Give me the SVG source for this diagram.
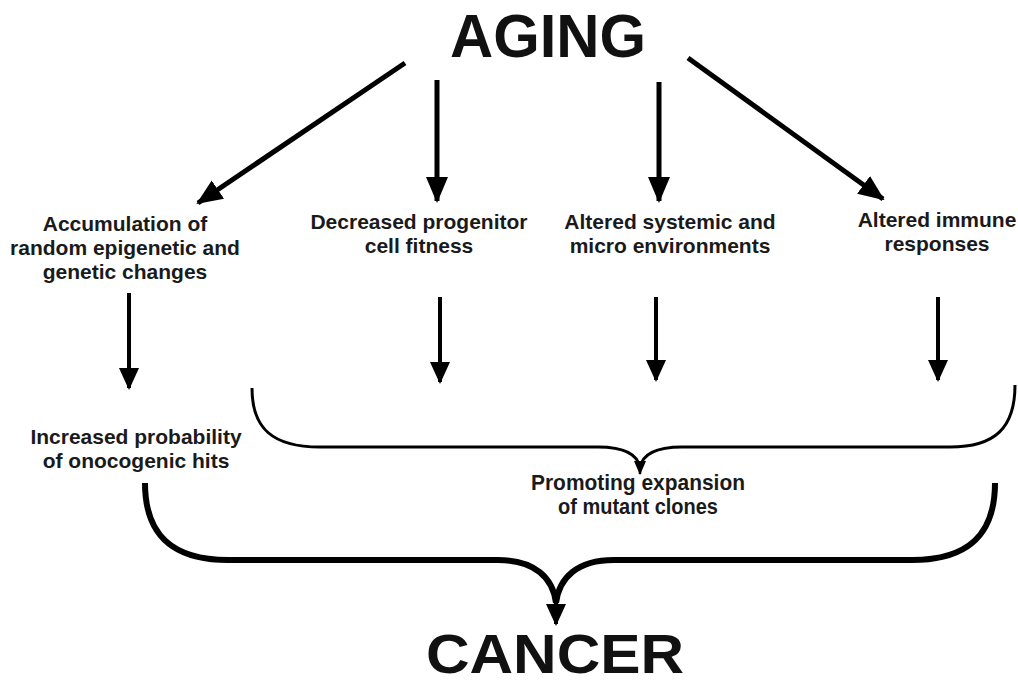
<svg xmlns="http://www.w3.org/2000/svg" width="1018" height="685" viewBox="0 0 1018 685">
<style>
.title{font-family:"Liberation Sans",Arial,sans-serif;font-weight:bold;fill:#111;text-anchor:middle}
.lbl{font-family:"Liberation Sans",Arial,sans-serif;font-weight:bold;font-size:21px;fill:#1a1a1a;text-anchor:middle}
.nar{font-family:"Liberation Sans Narrow","Liberation Sans",Arial,sans-serif;font-weight:bold;font-size:22px;fill:#1a1a1a;text-anchor:middle}
.a1{stroke:#000;stroke-width:5;fill:none;marker-end:url(#h1)}
.a2{stroke:#000;stroke-width:4;fill:none;marker-end:url(#h2)}
.br1{stroke:#000;stroke-width:3;fill:none}
.br2{stroke:#000;stroke-width:6;fill:none}
</style>
<defs>
<marker id="h1" markerUnits="userSpaceOnUse" markerWidth="26" markerHeight="26" viewBox="0 0 26 26" refX="24" refY="13" orient="auto"><path d="M0,2 L26,13 L0,24 Z" fill="#000"/></marker>
<marker id="h2" markerUnits="userSpaceOnUse" markerWidth="22" markerHeight="22" viewBox="0 0 22 22" refX="20" refY="11" orient="auto"><path d="M0,1 L22,11 L0,21 Z" fill="#000"/></marker>
<marker id="h3" markerUnits="userSpaceOnUse" markerWidth="14" markerHeight="14" viewBox="0 0 14 14" refX="13" refY="7" orient="auto"><path d="M0,1 L14,7 L0,13 Z" fill="#000"/></marker>
</defs>
<rect width="1018" height="685" fill="#fff"/>
<g id="aging"><text class="title" x="548" y="57" font-size="62" textLength="196" lengthAdjust="spacingAndGlyphs">AGING</text></g>
<g id="accumulation"><text class="lbl" x="125" y="231">Accumulation of</text><text class="lbl" x="125" y="255">random epigenetic and</text><text class="lbl" x="125" y="279">genetic changes</text></g>
<g id="decreased"><text class="lbl" x="419" y="229">Decreased progenitor</text><text class="lbl" x="419" y="253">cell fitness</text></g>
<g id="altered-systemic"><text class="lbl" x="670" y="229">Altered systemic and</text><text class="lbl" x="670" y="253">micro environments</text></g>
<g id="altered-immune"><text class="lbl" x="937" y="227">Altered immune</text><text class="lbl" x="937" y="251">responses</text></g>
<g id="increased"><text class="lbl" x="136" y="444">Increased probability</text><text class="lbl" x="136" y="468">of onocogenic hits</text></g>
<g id="promoting"><text class="nar" x="638" y="490" textLength="214" lengthAdjust="spacingAndGlyphs">Promoting expansion</text><text class="nar" x="638" y="514" textLength="160" lengthAdjust="spacingAndGlyphs">of mutant clones</text></g>
<g id="cancer"><text class="title" x="555" y="673" font-size="56" textLength="258" lengthAdjust="spacingAndGlyphs">CANCER</text></g>
<g id="connectors">
<line class="a1" x1="405" y1="63" x2="198" y2="203"/>
<line class="a1" x1="437" y1="80" x2="437" y2="201"/>
<line class="a1" x1="659" y1="82" x2="659" y2="201"/>
<line class="a1" x1="688" y1="58" x2="883" y2="199"/>
<line class="a2" x1="129" y1="293" x2="129" y2="388"/>
<line class="a2" x1="440" y1="297" x2="440" y2="382"/>
<line class="a2" x1="656" y1="297" x2="656" y2="380"/>
<line class="a2" x1="938" y1="297" x2="938" y2="380"/>
<path class="br1" d="M252,388 C252,428 272,447 320,447 L598,447 C625,447 638,455 640,468"/>
<path class="br1" d="M1015,385 C1015,428 995,447 950,447 L682,447 C655,447 642,455 640,468"/>
<line stroke="#000" stroke-width="2.5" x1="640" y1="462" x2="640" y2="474" marker-end="url(#h3)"/>
<path class="br2" d="M145,483 C145,535 172,560 228,560 L498,560 C535,560 553,578 556,603"/>
<path class="br2" d="M995,483 C995,535 968,560 912,560 L614,560 C577,560 559,578 556,603"/>
<line class="a2" x1="556" y1="598" x2="556" y2="624"/>
</g>
</svg>
